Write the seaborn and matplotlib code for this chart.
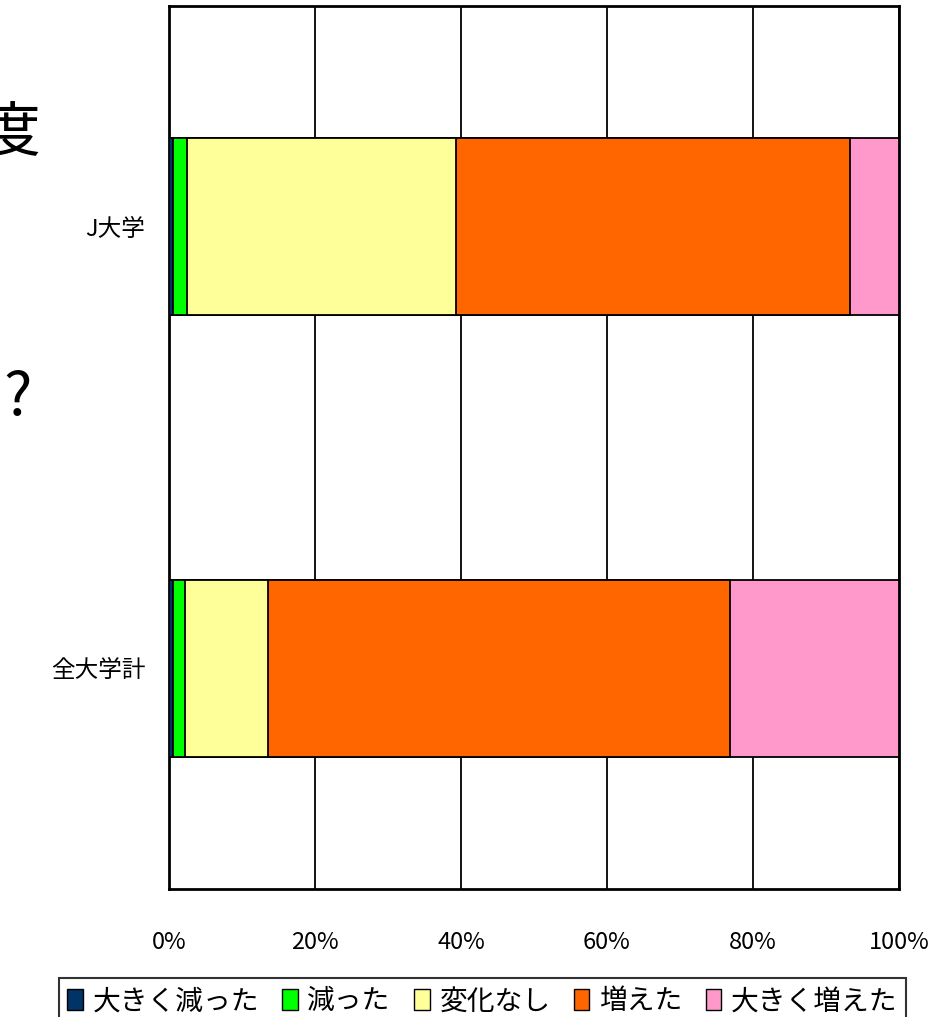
import numpy as np
import pandas as pd
import matplotlib
matplotlib.use("Agg")
import matplotlib.pyplot as plt
from matplotlib.patches import Patch
from matplotlib.ticker import FixedLocator
import seaborn as sns

# ---- data ----
categories = ["J大学", "全大学計"]
series_labels = ["大きく減った", "減った", "変化なし", "増えた", "大きく増えた"]
series_colors = ["#003366", "#00FF00", "#FFFF99", "#FF6600", "#FF99CC"]
j_values = [0.5, 1.9, 36.9, 54.0, 6.7]
all_values = [0.5, 1.7, 11.4, 63.2, 23.2]
x_ticks = [0, 20, 40, 60, 80, 100]
x_tick_labels = ["0%", "20%", "40%", "60%", "80%", "100%"]

sns.set_style("white")
plt.rcParams["font.family"] = ["Noto Sans CJK JP", "DejaVu Sans"]
plt.rcParams["text.color"] = "black"
plt.rcParams["xtick.color"] = "black"
plt.rcParams["ytick.color"] = "black"
plt.rcParams["axes.labelcolor"] = "black"

vals = np.array([j_values, all_values])
cum = np.cumsum(vals, axis=1)

fig = plt.figure(figsize=(9.45, 10.17), dpi=100)
W, H = 945, 1017
ax = fig.add_axes([169 / W, 1 - 889 / H, 730 / W, 883 / H])

for i in reversed(range(len(series_labels))):
    df = pd.DataFrame({"cat": categories, "val": cum[:, i]})
    sns.barplot(data=df, x="val", y="cat", orient="h", color=series_colors[i],
                saturation=1, edgecolor="black", linewidth=1.3, width=0.4,
                ax=ax, zorder=3)

ax.set_xlim(0, 100)
ax.set_ylim(1.5, -0.5)
ax.set_xticks(x_ticks)
ax.set_xticklabels(x_tick_labels, fontsize=17)
ax.xaxis.grid(True, color="black", linewidth=1.3)
ax.yaxis.grid(False)
ax.set_axisbelow(True)
ax.tick_params(axis="x", length=0, pad=30)
ax.tick_params(axis="y", which="major", length=0, pad=17, labelsize=17)
ax.yaxis.set_minor_locator(FixedLocator([0.5]))
ax.tick_params(axis="y", which="minor", direction="in", length=7.5, width=1.5, color="black")
ax.set_xlabel("")
ax.set_ylabel("")
for s in ax.spines.values():
    s.set_visible(True)
    s.set_color("black")
    s.set_linewidth(2)

# partial title fragments at the left edge (cut off in the reference as well)
fig.text(40 / W, 1 - 135 / H, "度", fontsize=43, ha="right", va="center")
fig.text(32 / W, 1 - 398 / H, "?", fontsize=43, ha="right", va="center")

handles = [Patch(facecolor=c, edgecolor="black", linewidth=1) for c in series_colors]
leg = fig.legend(handles, series_labels, loc="upper left",
                 bbox_to_anchor=(59 / W, 1 - 978 / H), ncol=5, frameon=True,
                 fancybox=False, edgecolor="black", handlelength=0.55,
                 handleheight=0.75, handletextpad=0.35, columnspacing=0.85,
                 borderpad=0.3, borderaxespad=0, fontsize=20)
leg.get_frame().set_linewidth(1.5)

fig.savefig("out.png", dpi=100)
